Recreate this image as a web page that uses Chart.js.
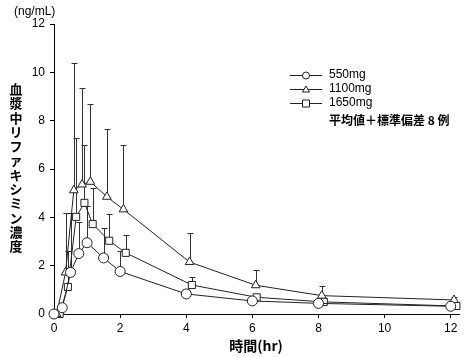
<!DOCTYPE html>
<html><head><meta charset="utf-8">
<script src="https://cdn.jsdelivr.net/npm/chart.js@4.4.0/dist/chart.umd.min.js"></script>
<style>html,body{margin:0;padding:0;background:#fff;}#wrap{position:relative;width:471px;height:357px;}</style>
</head><body><div id="wrap"><canvas id="c" width="471" height="357"></canvas></div>
<script>
// ---- data ----
const xTickValues = [0, 2, 4, 6, 8, 10, 12];
const yTickValues = [0, 2, 4, 6, 8, 10, 12];
const seriesNames = ['550mg', '1100mg', '1650mg'];
const legendNote = '平均値＋標準偏差 8 例';
const yTitle = '血漿中リファキシミン濃度';
const xTitle = '時間(hr)';
const unitLabel = '(ng/mL)';

const time550 = [0, 0.25, 0.5, 0.75, 1, 1.5, 2, 4, 6, 8, 12];
const conc550 = [0, 0.26, 1.72, 2.5, 2.95, 2.32, 1.76, 0.83, 0.54, 0.44, 0.32];
const sd550   = [0, 0.05, 2.44, 1.3, 1.5, 1.23, 0.86, 0.2, 0.12, 0.1, 0.08];

const time1100 = [0.08, 0.35, 0.6, 0.85, 1.1, 1.6, 2.1, 4.1, 6.1, 8.1, 12.1];
const conc1100 = [0, 1.72, 5.12, 5.36, 5.47, 4.85, 4.33, 2.15, 1.19, 0.76, 0.58];
const sd1100   = [0, 2.45, 5.25, 3.98, 3.21, 2.81, 2.68, 1.21, 0.64, 0.4, 0.11];

const time1650 = [0.17, 0.42, 0.67, 0.92, 1.17, 1.67, 2.17, 4.17, 6.13, 8.16, 12.17];
const conc1650 = [0, 1.12, 4.02, 4.6, 3.72, 3.03, 2.53, 1.2, 0.69, 0.5, 0.33];
const sd1650   = [0, 1.5, 3.28, 2.41, 1.48, 1.1, 0.73, 0.34, 0.15, 0.1, 0.08];

const pointStyles = ['circle', 'triangle', 'rect'];
const lineColor = '#222';

function toPoints(t, v) { return t.map((x, i) => ({ x: x, y: v[i] })); }
const sdLists = [sd550, sd1100, sd1650];

const datasets = [
  { label: seriesNames[0], data: toPoints(time550, conc550) },
  { label: seriesNames[1], data: toPoints(time1100, conc1100) },
  { label: seriesNames[2], data: toPoints(time1650, conc1650) }
].map((d, i) => Object.assign(d, {
  showLine: true,
  borderColor: lineColor,
  borderWidth: 1,
  backgroundColor: '#fff',
  pointStyle: pointStyles[i],
  pointRadius: 5,
  pointBorderColor: lineColor,
  pointBackgroundColor: '#fff',
  pointBorderWidth: 1,
  tension: 0,
  clip: false
}));

const errorBars = {
  id: 'errorBars',
  beforeDatasetsDraw(chart) {
    const ctx = chart.ctx, xs = chart.scales.x, ys = chart.scales.y;
    ctx.save();
    ctx.strokeStyle = '#333';
    ctx.lineWidth = 1;
    chart.data.datasets.forEach((ds, i) => {
      ds.data.forEach((p, j) => {
        const sd = sdLists[i][j];
        if (!sd) return;
        const px = Math.round(xs.getPixelForValue(p.x)) + 0.5;
        const y0 = ys.getPixelForValue(p.y);
        const y1 = Math.round(ys.getPixelForValue(p.y + sd)) + 0.5;
        ctx.beginPath();
        ctx.moveTo(px, y0); ctx.lineTo(px, y1);
        ctx.moveTo(px - 3, y1); ctx.lineTo(px + 3, y1);
        ctx.stroke();
      });
    });
    ctx.restore();
  }
};

const extraText = {
  id: 'extraText',
  afterDraw(chart) {
    const ctx = chart.ctx;
    ctx.save();
    ctx.fillStyle = '#000';
    ctx.font = '12px "Liberation Sans", Arial, sans-serif';
    ctx.textAlign = 'left'; ctx.textBaseline = 'middle';
    ctx.fillText(unitLabel, 14, 12);
    ctx.font = 'bold 13px "Noto Sans CJK JP", sans-serif';
    ctx.textAlign = 'center';
    Array.from(yTitle).forEach((ch, k) => ctx.fillText(ch, 16, 89 + k * 14.3));
    ctx.font = 'bold 14px "Noto Sans CJK JP", sans-serif';
    ctx.fillText(xTitle, 256, 346);
    const rows = [75, 89, 103];
    rows.forEach((ry, i) => {
      ctx.strokeStyle = lineColor; ctx.lineWidth = 1;
      ctx.beginPath(); ctx.moveTo(290, ry + 0.5); ctx.lineTo(322, ry + 0.5); ctx.stroke();
      ctx.fillStyle = '#fff';
      ctx.beginPath();
      if (i === 0) ctx.arc(306, ry + 0.5, 3.5, 0, Math.PI * 2);
      else if (i === 1) { ctx.moveTo(306, ry - 3); ctx.lineTo(309.5, ry + 3); ctx.lineTo(302.5, ry + 3); ctx.closePath(); }
      else ctx.rect(302.5, ry - 3, 7, 7);
      ctx.fill(); ctx.stroke();
      ctx.fillStyle = '#000';
      ctx.font = '12px "Liberation Sans", Arial, sans-serif';
      ctx.textAlign = 'left';
      ctx.fillText(seriesNames[i], 329, ry);
    });
    ctx.font = 'bold 12px "Noto Sans CJK JP", sans-serif';
    ctx.fillText(legendNote, 329, 120);
    ctx.restore();
  }
};

const tickFont = { family: '"Liberation Sans", Arial, sans-serif', size: 12 };

new Chart(document.getElementById('c'), {
  type: 'scatter',
  data: { datasets },
  options: {
    responsive: false,
    devicePixelRatio: 1,
    animation: false,
    layout: { padding: { left: 0, right: 12, top: 24, bottom: 0 } },
    plugins: { legend: { display: false }, tooltip: { enabled: false } },
    scales: {
      x: {
        type: 'linear', min: 0, max: 12.25,
        afterBuildTicks: s => { s.ticks = xTickValues.map(v => ({ value: v })); },
        afterFit: s => { s.height = 43; },
        ticks: { color: '#000', font: tickFont, padding: 3, maxRotation: 0 },
        grid: { display: true, drawOnChartArea: false, drawTicks: true, tickLength: 4, tickColor: '#000' },
        border: { display: true, color: '#000', width: 1 }
      },
      y: {
        type: 'linear', min: 0, max: 12,
        afterBuildTicks: s => { s.ticks = yTickValues.map(v => ({ value: v })); },
        afterFit: s => { s.width = 54; },
        ticks: { color: '#000', font: tickFont, padding: 5 },
        grid: { display: true, drawOnChartArea: false, drawTicks: true, tickLength: 4, tickColor: '#000' },
        border: { display: true, color: '#000', width: 1 }
      }
    }
  },
  plugins: [errorBars, extraText]
});
</script></body></html>
